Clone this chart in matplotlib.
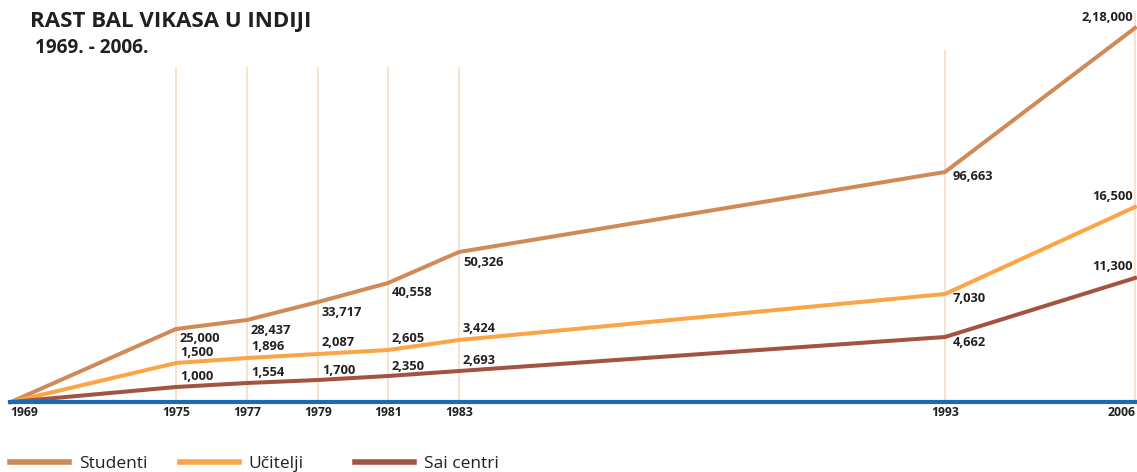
import matplotlib
matplotlib.use("Agg")
import matplotlib.pyplot as plt
from matplotlib.lines import Line2D

plt.rcParams['font.family'] = ['Open Sans', 'DejaVu Sans']

years = ['1969', '1975', '1977', '1979', '1981', '1983', '1993', '2006']
x_pos = [0, 165, 236, 307, 377, 448, 934, 1124]
grid_top = [0, 334, 334, 334, 334, 334, 351, 390]

series_names = ['Studenti', 'Učitelji', 'Sai centri']
studenti_h = [0, 73, 82, 100, 119, 150, 230, 374]
ucitelji_h = [0, 39, 44, 48, 52, 62, 108, 195]
sai_h = [0, 15, 19, 22, 26, 31, 65, 124]

studenti_lbl = ['', '25,000', '28,437', '33,717', '40,558', '50,326', '96,663', '2,18,000']
ucitelji_lbl = ['', '1,500', '1,896', '2,087', '2,605', '3,424', '7,030', '16,500']
sai_lbl = ['', '1,000', '1,554', '1,700', '2,350', '2,693', '4,662', '11,300']

colors = ['#d08a58', '#fba546', '#a3533f']
# label offset (pixels) for the middle years, per series
mid_dy = [-10, 11, 10]

fig = plt.figure(figsize=(11.37, 4.72), dpi=100)
W, H = 1137, 472
ax = fig.add_axes([11 / W, (H - 402) / H, 1126 / W, 392 / H])
ax.set_xlim(0, 1126)
ax.set_ylim(0, 392)
ax.axis('off')

# vertical guide lines
for xp, top in zip(x_pos[1:], grid_top[1:]):
    ax.plot([xp, xp], [0, top], color='#f6e2d0', lw=1.4, zorder=1, clip_on=False)

ax.axhline(0, xmin=-0.001, xmax=1.01, color='#1b6ab3', lw=3, zorder=5, clip_on=False)

all_h = [studenti_h, ucitelji_h, sai_h]
all_lbl = [studenti_lbl, ucitelji_lbl, sai_lbl]
lab_kw = dict(textcoords='offset pixels', va='center', fontsize=9.3,
              fontweight='bold', color='#231f20', annotation_clip=False)
for k in range(3):
    ax.plot(x_pos, all_h[k], color=colors[k], lw=2.9, zorder=3,
            solid_joinstyle='miter', clip_on=False)
    for i in range(1, len(years)):
        pt = (x_pos[i], all_h[k][i])
        if i <= 5:
            ax.annotate(all_lbl[k][i], pt, xytext=(4, mid_dy[k]), ha='left', **lab_kw)
        elif i == 6:
            ax.annotate(all_lbl[k][i], pt, xytext=(8, -5), ha='left', **lab_kw)
        else:
            ax.annotate(all_lbl[k][i], pt, xytext=(-2, 11), ha='right', **lab_kw)

# year labels under the axis
for i, yr in enumerate(years):
    ha = 'center'
    dx = 0
    if i == 0:
        ha = 'left'
        dx = -1
    elif i == len(years) - 1:
        ha = 'right'
        dx = 1
    ax.annotate(yr, (x_pos[i], 0), xytext=(dx, -10), textcoords='offset pixels',
                ha=ha, va='center', fontsize=8.8, fontweight='bold', color='#231f20',
                annotation_clip=False)

fig.text(30 / W, 1 - 22 / H, 'RAST BAL VIKASA U INDIJI', fontsize=16,
         fontweight='bold', color='#231f20', va='center', ha='left')
fig.text(35 / W, 1 - 48 / H, '1969. - 2006.', fontsize=13.7,
         fontweight='bold', color='#231f20', va='center', ha='left')

# legend entries sit in fixed-width slots
leg_x = [10, 180, 355]
for k in range(3):
    h = Line2D([], [], color=colors[k], lw=4)
    leg = fig.legend([h], [series_names[k]], loc='center left',
                     bbox_to_anchor=(leg_x[k] / W, 1 - 464 / H), frameon=False,
                     fontsize=12.5, handlelength=3.4, handletextpad=0.55,
                     borderpad=0, borderaxespad=0)
    for t in leg.get_texts():
        t.set_color('#231f20')

fig.savefig('out.png', dpi=100)
